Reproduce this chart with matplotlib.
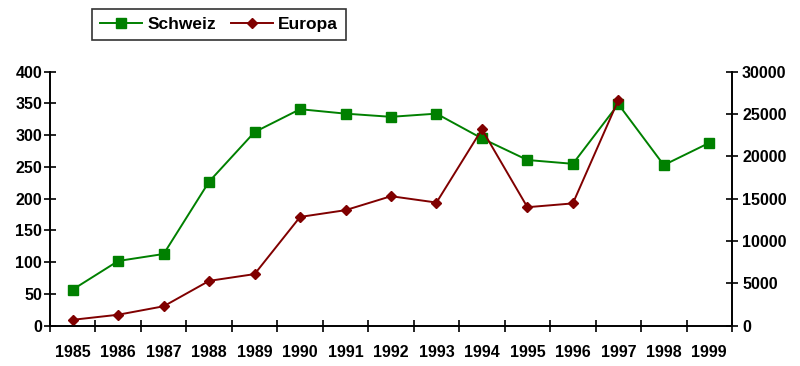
import matplotlib.pyplot as plt

jahre = ["1985", "1986", "1987", "1988", "1989", "1990", "1991", "1992",
         "1993", "1994", "1995", "1996", "1997", "1998", "1999"]
schweiz = [57, 102, 113, 227, 305, 341, 334, 329, 334, 295, 261, 255, 349, 253, 288]
europa = [700, 1300, 2300, 5300, 6100, 12850, 13650, 15300, 14550, 23200,
          14000, 14450, 26650]

plt.rcParams['font.family'] = ['Liberation Sans', 'DejaVu Sans']
plt.rcParams['font.weight'] = 'bold'
plt.rcParams['font.size'] = 11.5

fig = plt.figure(figsize=(8, 3.66), dpi=100)
ax = fig.add_axes([0.0625, 0.11, 0.8525, 0.694])
ax2 = ax.twinx()

x = list(range(len(jahre)))
l1, = ax.plot(x, schweiz, color='#008000', marker='s', markersize=7, lw=1.4,
              label='Schweiz')
l2, = ax2.plot(x[:len(europa)], europa, color='#800000', marker='D', markersize=5.5,
               lw=1.4, label='Europa')

ax.set_xlim(-0.5, len(jahre) - 0.5)
ax.set_ylim(0, 400)
ax2.set_ylim(0, 30000)
ax.set_yticks(range(0, 401, 50))
ax2.set_yticks(range(0, 30001, 5000))

ax.set_xticks(x)
ax.set_xticklabels(jahre, fontweight='bold')
ax.set_xticks([i - 0.5 for i in range(len(jahre) + 1)], minor=True)
ax.tick_params(axis='x', which='major', length=0, pad=14)
ax.tick_params(axis='x', which='minor', direction='inout', length=8.5, width=1.2)
ax.tick_params(axis='y', direction='inout', length=8.5, width=1.2, pad=1.5)
ax2.tick_params(axis='y', direction='inout', length=8.5, width=1.2, pad=3)

for a in (ax, ax2):
    a.spines['top'].set_visible(False)
    for s in ('left', 'right', 'bottom'):
        a.spines[s].set_linewidth(1.2)
    for lab in a.get_yticklabels():
        lab.set_fontweight('bold')

leg = fig.legend([l1, l2], ['Schweiz', 'Europa'], loc='center',
                 bbox_to_anchor=(0.274, 0.932), ncol=2, frameon=True,
                 fancybox=False, edgecolor='black', handlelength=2.4,
                 columnspacing=0.9, handletextpad=0.3, borderpad=0.45,
                 prop={'weight': 'bold', 'size': 12.5})
leg.get_frame().set_linewidth(1.2)

fig.savefig('out.png', dpi=100)
